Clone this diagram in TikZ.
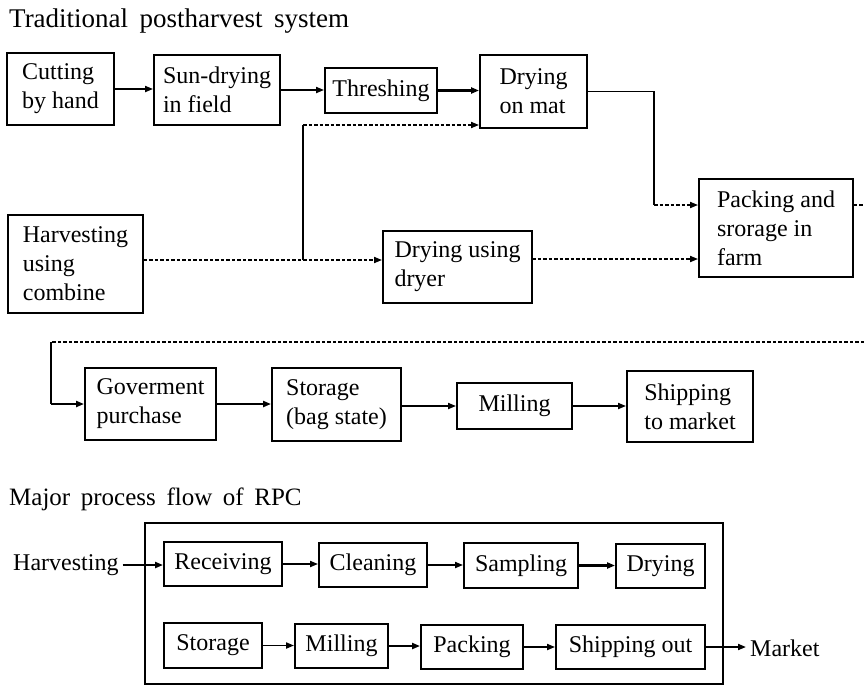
\documentclass[tikz,border=0pt]{standalone}
\usepackage{fontspec}
\setmainfont{Liberation Serif}
\newfontfamily\titlefonta[WordSpace=2.6]{Liberation Serif}
\newfontfamily\titlefontb[WordSpace=1.7]{Liberation Serif}
\usetikzlibrary{arrows.meta}
\begin{document}
\begin{tikzpicture}[x=1pt,y=-1pt,
  box/.style={draw,line width=1.9pt,inner sep=0pt,align=left,font=\fontsize{24}{29}\selectfont},
  lbl/.style={inner sep=0pt,font=\fontsize{24}{29}\selectfont},
  ttla/.style={inner sep=0pt,font=\titlefonta\fontsize{27}{30}\selectfont},
  ttlb/.style={inner sep=0pt,font=\titlefontb\fontsize{25}{30}\selectfont},
  arr/.style={line width=1.8pt,-{Triangle[length=8pt,width=6pt]}},
  tarr/.style={line width=2.4pt,-{Triangle[length=8pt,width=6pt]}},
  dotl/.style={line width=1.7pt,dash pattern=on 3.5pt off 2pt},
  darr/.style={dotl,-{Triangle[length=8pt,width=6pt]}},
]
\fill[white] (0,0) rectangle (864,686);
\useasboundingbox (0,0) rectangle (864,686);

% titles
\node[ttla,anchor=base west] (t1) at (9,27) {Traditional postharvest system};
\node[ttlb,anchor=base west] (t2) at (9,505) {Major process flow of RPC};

% traditional system, first part
\node[box,minimum width=107pt,minimum height=72pt] (cut) at (60.5,89) {Cutting\\by hand};
\node[box,minimum width=126pt,minimum height=70pt] (sun) at (217,90) {Sun-drying\\in field};
\node[box,minimum width=112pt,minimum height=45pt] (thr) at (381,90.5) {Threshing};
\node[box,minimum width=107pt,minimum height=73pt] (mat) at (533.5,91.5) {Drying\\on mat};
\node[box,minimum width=154pt,minimum height=98pt] (pack) at (776,228) {Packing and\\srorage in\\farm};
\node[box,minimum width=135pt,minimum height=98pt] (comb) at (75.5,264) {Harvesting\\using\\combine};
\node[box,minimum width=149pt,minimum height=72pt] (dryer) at (457.5,267) {Drying using\\dryer};

\coordinate (j1) at (303,125);
\coordinate (j2) at (303,260);
\coordinate (k2) at (654,205);
\coordinate (d1) at (532,259);
\coordinate (e1) at (864,205);
\coordinate (e2) at (864,342);
\coordinate (e3) at (51,342);
\coordinate (e4) at (51,404);

\draw[arr] (cut.east) -- (cut.east -| sun.west);
\draw[arr] (sun.east) -- (sun.east -| thr.west);
\draw[tarr] (thr.east) -- (thr.east -| mat.west);
\draw[line width=1.9pt] (j2) -- (j1);
\draw[darr] (j1) -- (j1 -| mat.west);
\draw[darr] (comb.east |- j2) -- (j2 -| dryer.west);
\draw[darr] (d1) -- (d1 -| pack.west);
\draw[line width=1.8pt] (mat.east) -| (k2);
\draw[darr] (k2) -- (k2 -| pack.west);
\draw[dotl] (pack.east |- e1) -- (e1);

% second part
\node[box,minimum width=131pt,minimum height=72pt] (gov) at (150.5,404) {Goverment\\purchase};
\node[box,minimum width=129pt,minimum height=73pt] (stor) at (336.5,404.5) {Storage\\(bag state)};
\node[box,minimum width=115pt,minimum height=46pt] (mill) at (514.5,406) {Milling};
\node[box,minimum width=126pt,minimum height=71pt] (ship) at (690,406.5) {Shipping\\to market};

\draw[dotl] (e2) -- (e3);
\draw[line width=2.4pt] (e3) -- (e4);
\draw[tarr] (e4) -- (e4 -| gov.west);
\draw[tarr] (gov.east) -- (gov.east -| stor.west);
\draw[arr] (stor.east |- mill.west) -- (mill.west);
\draw[arr] (mill.east) -- (mill.east -| ship.west);

% RPC
\node[draw,line width=1.9pt,minimum width=578pt,minimum height=161pt,inner sep=0pt] (rpc) at (434,603.5) {};
\node[lbl,anchor=west] (harv) at (13,565) {Harvesting};
\node[box,minimum width=118pt,minimum height=44pt] (rec) at (223,564) {Receiving};
\node[box,minimum width=108pt,minimum height=44pt] (cln) at (373,565) {Cleaning};
\node[box,minimum width=114pt,minimum height=45pt] (smp) at (521,565.5) {Sampling};
\node[box,minimum width=89pt,minimum height=44pt] (dry) at (660.5,566) {Drying};
\node[box,minimum width=98pt,minimum height=45pt] (st2) at (213,645.5) {Storage};
\node[box,minimum width=93pt,minimum height=44pt] (ml2) at (341.5,646) {Milling};
\node[box,minimum width=102pt,minimum height=44pt] (pk2) at (472,647) {Packing};
\node[box,minimum width=149pt,minimum height=44pt] (sho) at (630.5,647) {Shipping out};
\node[lbl,anchor=west] (mkt) at (750,648) {Market};

\draw[tarr] ([xshift=4pt]harv.east) -- (harv.east -| rec.west);
\draw[arr] (rec.east) -- (rec.east -| cln.west);
\draw[arr] (cln.east) -- (cln.east -| smp.west);
\draw[tarr] (smp.east) -- (smp.east -| dry.west);
\draw[arr] (st2.east) -- (st2.east -| ml2.west);
\draw[tarr] (ml2.east) -- (ml2.east -| pk2.west);
\draw[arr] (pk2.east) -- (pk2.east -| sho.west);
\draw[arr] (sho.east) -- ([xshift=-4pt]sho.east -| mkt.west);
\end{tikzpicture}
\end{document}
